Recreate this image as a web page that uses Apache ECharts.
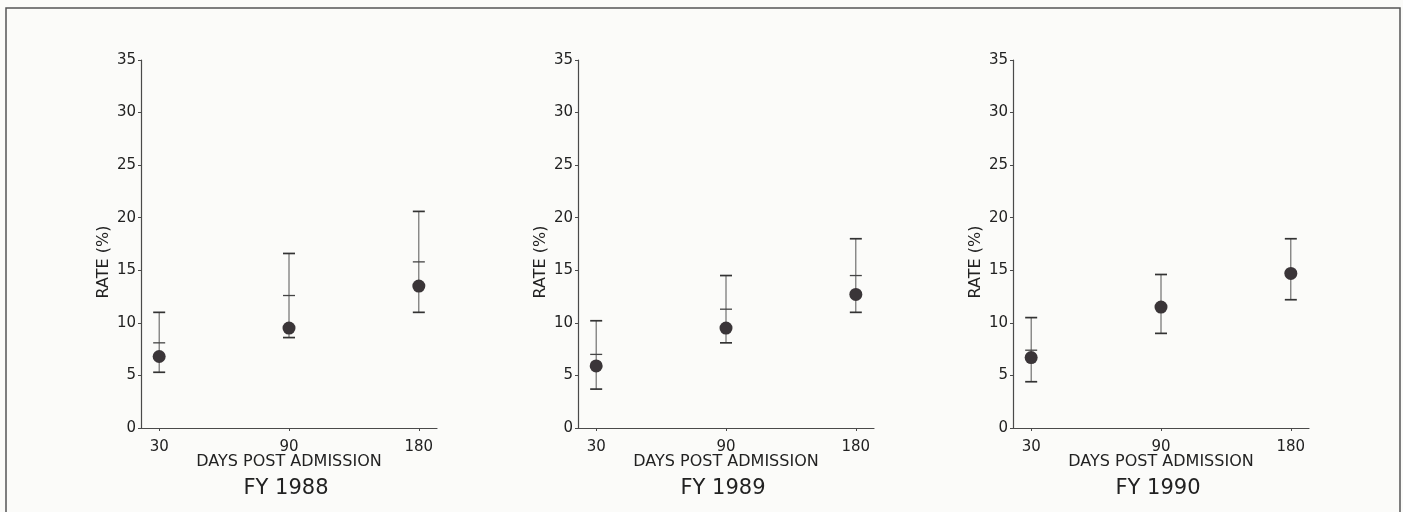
<!DOCTYPE html>
<html>
<head>
<meta charset="utf-8">
<script src="https://cdn.jsdelivr.net/npm/echarts@6/dist/echarts.min.js"></script>
<style>
html,body{margin:0;padding:0;background:#fbfbf9;}
#chart{width:1403px;height:512px;}
</style>
</head>
<body>
<div id="chart"></div>
<script>
// Data
const days = ['30', '90', '180'];
const yTicks = [0, 5, 10, 15, 20, 25, 30, 35];
const panelTitles = ['FY 1988', 'FY 1989', 'FY 1990'];

const fy1988Rate = [6.8, 9.5, 13.5];
const fy1988Low  = [5.3, 8.6, 11.0];
const fy1988Mid  = [8.1, 12.6, 15.8];
const fy1988High = [11.0, 16.6, 20.6];

const fy1989Rate = [5.9, 9.5, 12.7];
const fy1989Low  = [3.7, 8.1, 11.0];
const fy1989Mid  = [7.0, 11.3, 14.5];
const fy1989High = [10.2, 14.5, 18.0];

const fy1990Rate = [6.7, 11.5, 14.7];
const fy1990Low  = [4.4, 9.0, 12.2];
const fy1990Mid  = [7.4, 11.6, 14.8];
const fy1990High = [10.5, 14.6, 18.0];

const panels = [
  {rate: fy1988Rate, low: fy1988Low, mid: fy1988Mid, high: fy1988High},
  {rate: fy1989Rate, low: fy1989Low, mid: fy1989Mid, high: fy1989High},
  {rate: fy1990Rate, low: fy1990Low, mid: fy1990Mid, high: fy1990High}
];

// Layout
const gridLefts = [141, 578, 1013];
const gridWidth = 296;
const titleCenters = [281, 718, 1153];
const FONT = 'DejaVu Sans';
const AXIS_COLOR = '#4a4a4a';
const TEXT_COLOR = '#222';

const chart = echarts.init(document.getElementById('chart'), null, {renderer: 'canvas'});

const grids = [], xAxes = [], yAxes = [], series = [], titles = [];
panels.forEach((p, i) => {
  grids.push({left: gridLefts[i], width: gridWidth, top: 60, bottom: 84, containLabel: false});
  xAxes.push({
    type: 'value', gridIndex: i, min: -0.14, max: 2.14,
    splitLine: {show: false},
    axisLine: {show: true, onZero: false, lineStyle: {color: AXIS_COLOR, width: 1.2}},
    axisTick: {show: true, customValues: [0, 1, 2], length: 3, inside: false, lineStyle: {color: AXIS_COLOR}},
    axisLabel: {show: true, customValues: [0, 1, 2], margin: 12, color: TEXT_COLOR, fontFamily: FONT, fontSize: 15,
      formatter: v => days[Math.round(v)]},
    name: 'DAYS POST ADMISSION', nameLocation: 'middle', nameGap: 26, nameMoveOverlap: false,
    nameTextStyle: {color: TEXT_COLOR, fontFamily: FONT, fontSize: 16}
  });
  yAxes.push({
    type: 'value', gridIndex: i, min: 0, max: 35, interval: 5,
    splitLine: {show: false},
    axisLine: {show: true, onZero: false, lineStyle: {color: AXIS_COLOR, width: 1.2}},
    axisTick: {show: true, length: 3, lineStyle: {color: AXIS_COLOR}},
    axisLabel: {margin: 5, color: TEXT_COLOR, fontFamily: FONT, fontSize: 15,
      formatter: v => yTicks.includes(v) ? String(v) : ''},
    name: 'RATE (%)', nameLocation: 'middle', nameGap: 29, nameRotate: 90, nameMoveOverlap: false,
    nameTextStyle: {color: TEXT_COLOR, fontFamily: FONT, fontSize: 16, padding: [0, 36, 0, 0]}
  });
  const errData = days.map((d, k) => [k, p.low[k], p.high[k], p.mid[k]]);
  series.push({
    type: 'custom', xAxisIndex: i, yAxisIndex: i, data: errData, z: 2,
    renderItem: function (params, api) {
      const x = api.value(0);
      const lo = api.coord([x, api.value(1)]);
      const hi = api.coord([x, api.value(2)]);
      const md = api.coord([x, api.value(3)]);
      const hw = 6;
      return {type: 'group', children: [
        {type: 'line', shape: {x1: lo[0], y1: lo[1], x2: hi[0], y2: hi[1]}, style: {stroke: '#555', lineWidth: 1}},
        {type: 'line', shape: {x1: hi[0] - hw, y1: hi[1], x2: hi[0] + hw, y2: hi[1]}, style: {stroke: '#333', lineWidth: 1.7}},
        {type: 'line', shape: {x1: lo[0] - hw, y1: lo[1], x2: lo[0] + hw, y2: lo[1]}, style: {stroke: '#333', lineWidth: 1.7}},
        {type: 'line', shape: {x1: md[0] - hw, y1: md[1], x2: md[0] + hw, y2: md[1]}, style: {stroke: '#444', lineWidth: 1.3}}
      ]};
    }
  });
  series.push({
    type: 'scatter', xAxisIndex: i, yAxisIndex: i, z: 3,
    data: days.map((d, k) => [k, p.rate[k]]),
    symbol: 'circle', symbolSize: 13,
    itemStyle: {color: '#3a3538', opacity: 1}
  });
  titles.push({
    text: panelTitles[i], left: titleCenters[i], top: 473, textAlign: 'center',
    textStyle: {color: TEXT_COLOR, fontFamily: FONT, fontSize: 21, fontWeight: 'normal'}
  });
});

chart.setOption({
  backgroundColor: '#fbfbf9',
  animation: false,
  title: titles,
  grid: grids,
  xAxis: xAxes,
  yAxis: yAxes,
  series: series,
  graphic: [{
    type: 'polyline', silent: true,
    shape: {points: [[6, 512], [6, 8], [1400, 8], [1400, 512]]},
    style: {stroke: '#555', lineWidth: 1.5, fill: null}
  }]
});
</script>
</body>
</html>
